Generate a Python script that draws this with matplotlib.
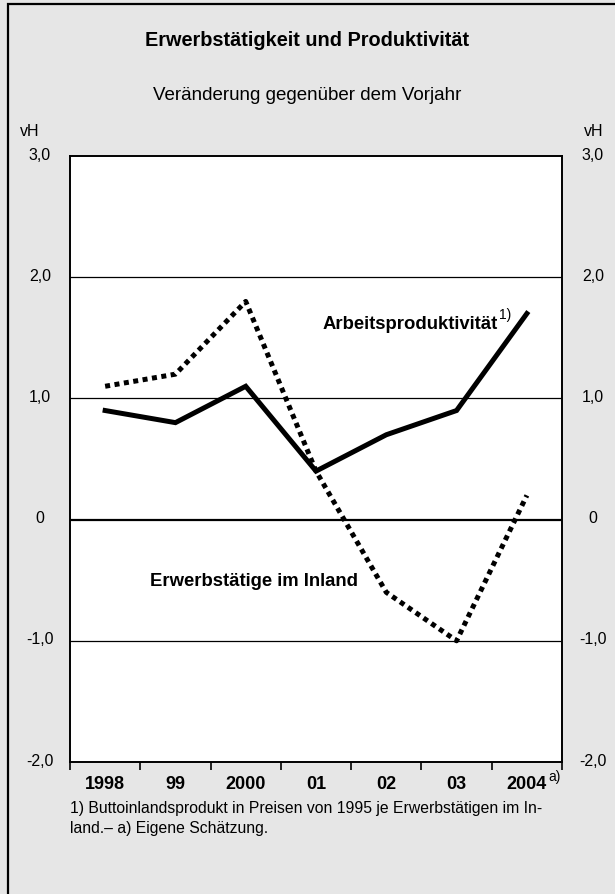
import numpy as np
import matplotlib
matplotlib.use("Agg")
import matplotlib.pyplot as plt
from matplotlib.patches import Rectangle

plt.rcParams['font.family'] = ['Liberation Sans', 'DejaVu Sans']

years = ['1998', '99', '2000', '01', '02', '03', '2004']
produktivitaet = [0.9, 0.8, 1.1, 0.4, 0.7, 0.9, 1.7]
erwerbstaetige = [1.1, 1.2, 1.8, 0.4, -0.6, -1.0, 0.2]
yticks = [3.0, 2.0, 1.0, 0.0, -1.0, -2.0]
ylabels = ['3,0', '2,0', '1,0', '0', '-1,0', '-2,0']

W, H = 615, 895
bg = '#e6e6e6'
fig = plt.figure(figsize=(W / 100, H / 100), dpi=100, facecolor=bg)

# outer frame (only left/top visible in the original)
fig.patches.append(Rectangle((8 / W, -0.01), 1.2, 1 - 5 / H + 0.01,
                             transform=fig.transFigure, fill=False,
                             edgecolor='black', lw=1.6))

# plot area in pixel coordinates
x0, x1 = 70, 562
ytop, ybot = 157, 763
ax = fig.add_axes([x0 / W, 1 - ybot / H, (x1 - x0) / W, (ybot - ytop) / H])
ax.set_facecolor('white')

x = np.arange(len(years))
ax.set_xlim(-0.5, len(years) - 0.5)
ax.set_ylim(-2, 3)

for v in [2.0, 1.0, -1.0]:
    ax.axhline(v, color='black', lw=0.9, zorder=1)
ax.axhline(0, color='black', lw=1.6, zorder=1)

ax.plot(x, produktivitaet, color='black', lw=3.6, solid_joinstyle='miter', zorder=3)
ax.plot(x, erwerbstaetige, color='black', lw=3.6, linestyle=(0, (1.0, 0.9)),
        dash_capstyle='butt', zorder=3)

for s in ax.spines.values():
    s.set_linewidth(1.4)
    s.set_color('black')

ax.set_yticks([])
ax.set_xticks(np.arange(len(years) + 1) - 0.5)
ax.set_xticklabels([])
ax.tick_params(axis='x', direction='out', length=6, width=1.2)

for i, lab in enumerate(years):
    ax.text(i, -0.021, lab, transform=ax.get_xaxis_transform(), ha='center', va='top',
            fontsize=13, fontweight='bold')
ax.text(6.31, -0.012, 'a)', transform=ax.get_xaxis_transform(), ha='left', va='top',
        fontsize=10)

# y labels on both sides
for v, lab in zip(yticks, ylabels):
    ypix = ytop + (3 - v) / 5 * (ybot - ytop)
    fig.text(40 / W, 1 - (ypix - 2) / H, lab, ha='center', va='center', fontsize=11.5)
    fig.text(593 / W, 1 - (ypix - 2) / H, lab, ha='center', va='center', fontsize=11.5)
fig.text(30 / W, 1 - 131 / H, 'vH', ha='center', va='center', fontsize=11.5)
fig.text(594 / W, 1 - 131 / H, 'vH', ha='center', va='center', fontsize=11.5)

# series labels
ax.text(5.59, 1.62, 'Arbeitsproduktivität', ha='right', va='center',
        fontsize=13.3, fontweight='bold')
ax.text(5.6, 1.7, '1)', ha='left', va='center', fontsize=10)
ax.text(0.64, -0.5, 'Erwerbstätige im Inland', ha='left', va='center',
        fontsize=13.3, fontweight='bold')

fig.text(0.5, 1 - 40 / H, 'Erwerbstätigkeit und Produktivität', ha='center',
         va='center', fontsize=14.3, fontweight='bold')
fig.text(0.5, 1 - 95 / H, 'Veränderung gegenüber dem Vorjahr', ha='center',
         va='center', fontsize=13.5)

fig.text(70 / W, 1 - 809 / H, '1) Buttoinlandsprodukt in Preisen von 1995 je Erwerbstätigen im In-',
         ha='left', va='center', fontsize=11.3)
fig.text(70 / W, 1 - 829 / H, 'land.– a) Eigene Schätzung.', ha='left', va='center', fontsize=11.3)

fig.savefig('out.png', dpi=100, facecolor=bg)
